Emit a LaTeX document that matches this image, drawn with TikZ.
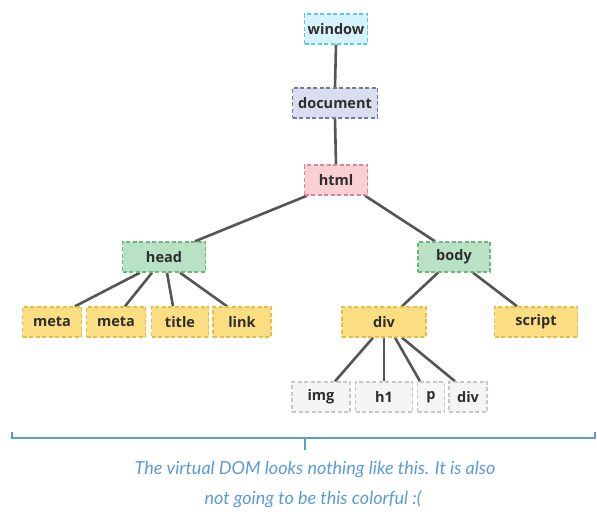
\documentclass[tikz,border=0pt]{standalone}
\usepackage{fontspec}
\setmainfont{Open Sans}
\newfontfamily\handfont{Lato}
\pgfdeclarelayer{bg}
\pgfsetlayers{bg,main}
\begin{document}
\begin{tikzpicture}[x=1pt,y=-1pt]
\definecolor{edgec}{HTML}{555555}
\definecolor{txtc}{HTML}{2E2E2E}
\definecolor{winfill}{HTML}{D6F2FA}\definecolor{windraw}{HTML}{5CC8E2}
\definecolor{docfill}{HTML}{DADCEF}\definecolor{docdraw}{HTML}{7478A6}
\definecolor{htmlfill}{HTML}{FAD0D4}\definecolor{htmldraw}{HTML}{E2828E}
\definecolor{grnfill}{HTML}{B9E2C4}\definecolor{grndraw}{HTML}{6CB67F}
\definecolor{ylwfill}{HTML}{FBDD82}\definecolor{ylwdraw}{HTML}{E9BE3E}
\definecolor{gryfill}{HTML}{F4F5F7}\definecolor{grydraw}{HTML}{C6C8CC}
\definecolor{bluec}{HTML}{5B9BD5}
\tikzset{
  box/.style={dashed, dash pattern=on 4pt off 2.5pt, line width=1.4pt, minimum height=30pt, inner sep=0pt, text=txtc, font=\bfseries\fontsize{14.5}{16}\selectfont},
  winbox/.style={box, fill=winfill, draw=windraw},
  docbox/.style={box, fill=docfill, draw=docdraw},
  htmlbox/.style={box, fill=htmlfill, draw=htmldraw},
  grnbox/.style={box, fill=grnfill, draw=grndraw},
  ylwbox/.style={box, fill=ylwfill, draw=ylwdraw},
  grybox/.style={box, fill=gryfill, draw=grydraw},
  edge/.style={draw=edgec, line width=2.6pt},
  brk/.style={draw=bluec, line width=1.3pt},
  note/.style={text=bluec, font=\handfont\itshape\fontsize{18}{21}\selectfont}
}
\useasboundingbox (0,0) rectangle (597,518);
% nodes
\node[winbox, minimum width=63pt] (window) at (336,29) {window};
\node[docbox, minimum width=85pt] (document) at (335,103) {document};
\node[htmlbox, minimum width=63pt] (html) at (336,180) {html};
\node[grnbox, minimum width=83pt] (head) at (164,257) {head};
\node[grnbox, minimum width=72pt] (body) at (454,257) {body};
\node[ylwbox, minimum width=59pt] (meta1) at (52,322) {meta};
\node[ylwbox, minimum width=59pt] (meta2) at (116,322) {meta};
\node[ylwbox, minimum width=57pt] (title) at (180,322) {title};
\node[ylwbox, minimum width=58pt] (link) at (242,322) {link};
\node[ylwbox, minimum width=84pt] (div) at (384,322) {div};
\node[ylwbox, minimum width=83pt] (script) at (536,322) {script};
\node[grybox, minimum width=58pt] (img) at (321,397) {img};
\node[grybox, minimum width=57pt] (h1) at (384,397) {h1};
\node[grybox, minimum width=27pt] (p) at (431,397) {p};
\node[grybox, minimum width=38pt] (div2) at (468,397) {div};
% connectors
\begin{pgfonlayer}{bg}
\path[edge] (window.south) -- (document.north);
\path[edge] (document.south) -- (html.north);
\path[edge] ([xshift=-29pt]html.south) -- ([xshift=31pt]head.north);
\path[edge] ([xshift=29pt]html.south) -- ([xshift=-19pt]body.north);
\path[edge] ([xshift=-24pt]head.south) -- ([xshift=23pt]meta1.north);
\path[edge] ([xshift=-12pt]head.south) -- ([xshift=9pt]meta2.north);
\path[edge] ([xshift=3pt]head.south) -- ([xshift=-7pt]title.north);
\path[edge] ([xshift=16pt]head.south) -- ([xshift=-15pt]link.north);
\path[edge] ([xshift=-16pt]body.south) -- ([xshift=18pt]div.north);
\path[edge] ([xshift=19pt]body.south) -- ([xshift=-19pt]script.north);
\path[edge] ([xshift=-11pt]div.south) -- ([xshift=14pt]img.north);
\path[edge] (div.south) -- (h1.north);
\path[edge] ([xshift=11pt]div.south) -- ([xshift=-11pt]p.north);
\path[edge] ([xshift=18pt]div.south) -- ([xshift=-13pt]div2.north);
\end{pgfonlayer}
% bracket
\coordinate (bl) at (12,432);
\coordinate (br) at (595,432);
\coordinate (bm) at (305,438);
\coordinate (bt) at (305,450);
\draw[brk] (bl) |- (br |- bm) -- (br);
\draw[brk] (bm) -- (bt);
\node[note] (note1) at (315,470) {The virtual DOM looks nothing like this. It is also};
\node[note] (note2) at (313,499) {not going to be this colorful :(};
\end{tikzpicture}
\end{document}
